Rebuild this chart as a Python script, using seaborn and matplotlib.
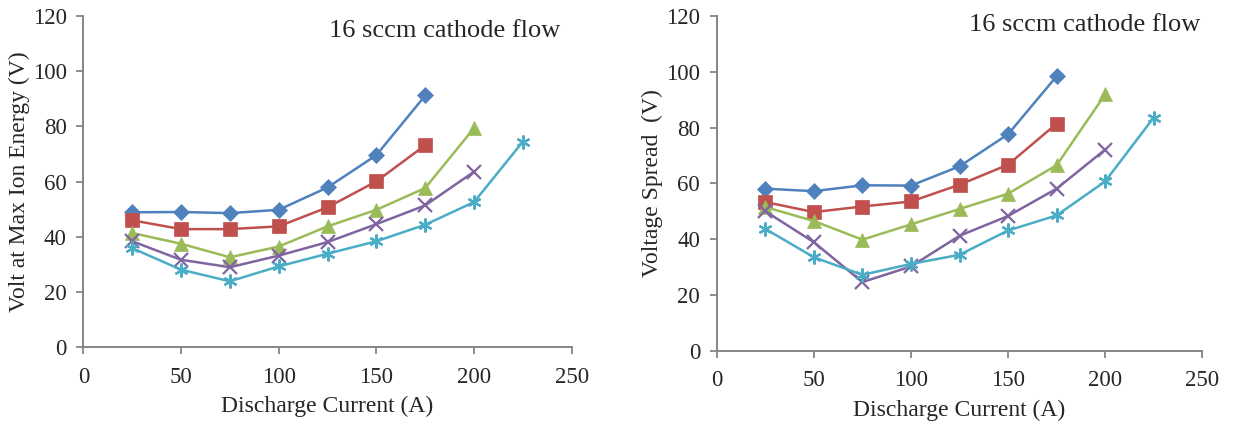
import numpy as np
import pandas as pd
import matplotlib
matplotlib.use("Agg")
import matplotlib.pyplot as plt
import seaborn as sns

# ---- data ----
current = [25, 50, 75, 100, 125, 150, 175, 200, 225]

# Left panel: Volt at Max Ion Energy (V)
left_s1 = [48.9, 49.0, 48.6, 49.8, 57.9, 69.6, 91.2]
left_s2 = [46.0, 42.8, 42.8, 43.8, 50.7, 60.1, 73.2]
left_s3 = [41.4, 37.5, 32.6, 36.5, 43.8, 49.8, 57.7, 79.4]
left_s4 = [38.4, 31.7, 29.0, 33.2, 38.1, 44.6, 51.4, 63.6]
left_s5 = [35.9, 28.1, 23.9, 29.3, 33.9, 38.4, 44.4, 52.6, 74.5]

# Right panel: Voltage Spread (V)
right_s1 = [58.1, 57.2, 59.3, 59.2, 66.1, 77.6, 98.4]
right_s2 = [53.3, 49.7, 51.7, 53.5, 59.5, 66.7, 81.4]
right_s3 = [51.5, 46.5, 39.8, 45.3, 50.8, 56.3, 66.5, 91.9]
right_s4 = [50.0, 38.9, 24.6, 30.2, 41.2, 48.3, 58.1, 72.1]
right_s5 = [43.7, 33.5, 27.2, 31.1, 34.4, 43.1, 48.5, 60.7, 83.6]

series_names = ["S1", "S2", "S3", "S4", "S5"]
colors = ["#4F81BD", "#C0504D", "#9BBB59", "#8064A2", "#4BACC6"]
markers = ["D", "s", "^", "x", (6, 2, 0)]
msizes = [8, 9.5, 10, 10, 10]

x_ticks = [0, 50, 100, 150, 200, 250]
y_ticks = [0, 20, 40, 60, 80, 100, 120]
title_text = "16 sccm cathode flow"
x_label = "Discharge Current (A)"
left_ylabel = "Volt at Max Ion Energy (V)"
right_ylabel = "Voltage Spread  (V)"

sns.set_theme(style="white")
plt.rcParams["font.family"] = ["Liberation Serif", "DejaVu Serif"]

fig = plt.figure(figsize=(12.33, 4.23), dpi=100)
ax1 = fig.add_axes([0.0676, 0.179, 0.3961, 0.7832])
ax2 = fig.add_axes([0.5813, 0.1709, 0.3938, 0.7913])

spine_col = "#868686"


def draw(ax, data, ylabel):
    frames = []
    for name, vals in zip(series_names, data):
        frames.append(pd.DataFrame({"x": current[:len(vals)], "y": vals, "s": name}))
    df = pd.concat(frames, ignore_index=True)
    for name, col, mk, ms in zip(series_names, colors, markers, msizes):
        sub = df[df["s"] == name]
        thin = mk == "x" or isinstance(mk, tuple)
        sns.lineplot(data=sub, x="x", y="y", ax=ax, color=col, marker=mk,
                     markersize=ms, linewidth=1.8, markeredgecolor=col,
                     markeredgewidth=1.6 if thin else 0.5,
                     sort=False, legend=False, clip_on=False)
    ax.set_xlim(0, 250)
    ax.set_ylim(0, 120)
    ax.set_xticks(x_ticks)
    ax.set_yticks(y_ticks)
    ax.tick_params(axis="both", labelsize=16.5, length=5, width=1.3,
                   color=spine_col, direction="out", bottom=True, left=True,
                   pad=7)
    ax.tick_params(axis="x", pad=9)
    for s in ["top", "right"]:
        ax.spines[s].set_visible(False)
    for s in ["left", "bottom"]:
        ax.spines[s].set_color(spine_col)
        ax.spines[s].set_linewidth(1.4)
    ax.set_xlabel(x_label, fontsize=17, labelpad=6)
    ax.set_ylabel(ylabel, fontsize=17, labelpad=2)
    ax.grid(False)


draw(ax1, [left_s1, left_s2, left_s3, left_s4, left_s5], left_ylabel)
draw(ax2, [right_s1, right_s2, right_s3, right_s4, right_s5], right_ylabel)

fig.text(329 / 1233, 1 - 31 / 423, title_text, fontsize=19, va="center", ha="left")
fig.text(969 / 1233, 1 - 25 / 423, title_text, fontsize=19, va="center", ha="left")

fig.savefig("out.png", dpi=100)
